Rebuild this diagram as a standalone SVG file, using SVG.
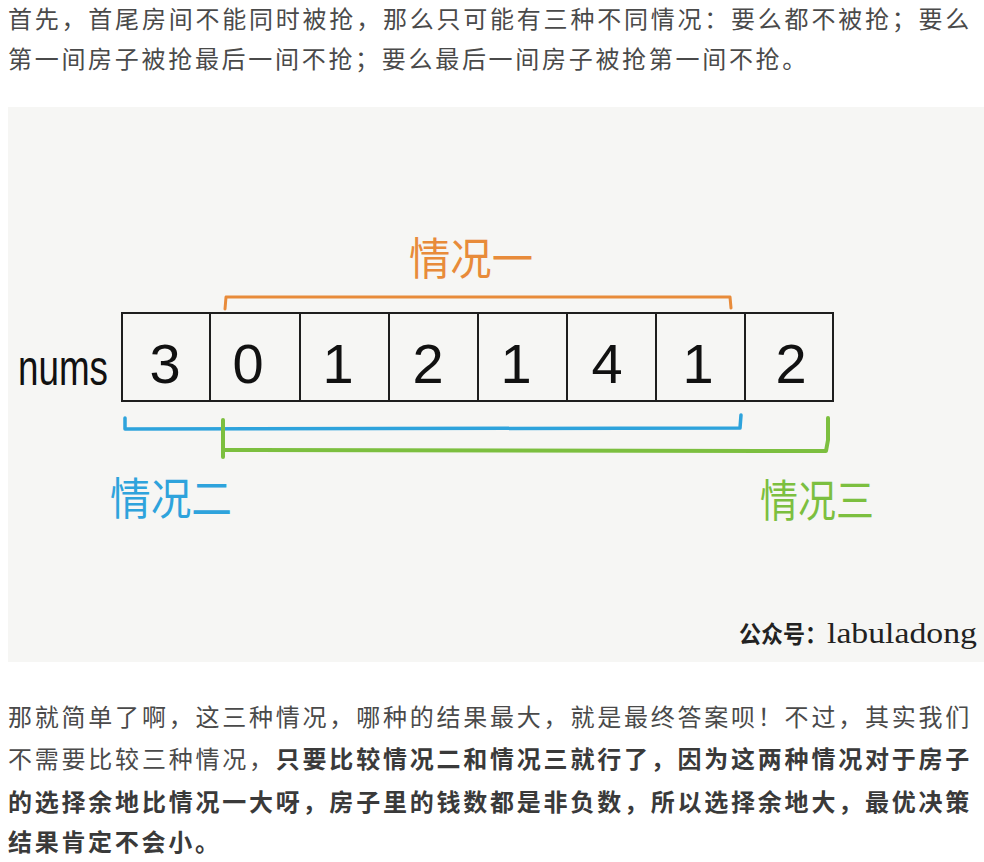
<svg xmlns="http://www.w3.org/2000/svg" width="984" height="862" viewBox="0 0 984 862">
<style>
.p{font-family:"Noto Sans CJK SC","Liberation Sans",sans-serif;font-size:24px;fill:#4a4a4a;letter-spacing:2.7px}
.b{font-weight:700;fill:#3a3a3a}
.box{fill:none;stroke:#1e1e1e;stroke-width:2}
.dg{font-family:"Liberation Sans","DejaVu Sans",sans-serif;font-size:56px;fill:#111;text-anchor:middle}
.hw{font-family:"Noto Sans CJK SC",sans-serif;font-size:44px;font-weight:400}
.br{fill:none;stroke-linecap:round;stroke-linejoin:round}
</style>
<rect x="0" y="0" width="984" height="862" fill="#ffffff"/>
<text class="p" x="8" y="28" textLength="964" lengthAdjust="spacing">首先，首尾房间不能同时被抢，那么只可能有三种不同情况：要么都不被抢；要么</text>
<text class="p" x="8" y="68">第一间房子被抢最后一间不抢；要么最后一间房子被抢第一间不抢。</text>
<rect x="8" y="107" width="976" height="555" fill="#f6f6f4"/>
<g id="nums-label"><text x="18" y="385" font-family="Liberation Sans,sans-serif" font-size="50" fill="#111" textLength="90" lengthAdjust="spacingAndGlyphs">nums</text></g>
<g id="cells">
<g id="c0"><rect class="box" x="122" y="313" width="88" height="88"/><text class="dg" x="165" y="383">3</text></g>
<g id="c1"><rect class="box" x="210" y="313" width="90" height="88"/><text class="dg" x="248" y="383">0</text></g>
<g id="c2"><rect class="box" x="300" y="313" width="89" height="88"/><text class="dg" x="338" y="383">1</text></g>
<g id="c3"><rect class="box" x="389" y="313" width="89" height="88"/><text class="dg" x="428" y="383">2</text></g>
<g id="c4"><rect class="box" x="478" y="313" width="89" height="88"/><text class="dg" x="516" y="383">1</text></g>
<g id="c5"><rect class="box" x="567" y="313" width="89" height="88"/><text class="dg" x="607" y="383">4</text></g>
<g id="c6"><rect class="box" x="656" y="313" width="89" height="88"/><text class="dg" x="698" y="383">1</text></g>
<g id="c7"><rect class="box" x="745" y="313" width="88" height="88"/><text class="dg" x="791" y="383">2</text></g>
</g>
<g id="connectors">
<path class="br" d="M225,309 L226,297 L730,297 L731,308" stroke="#e88b3a" stroke-width="3"/>
<path class="br" d="M125,418 L125,429 L740,428 L741,415" stroke="#2ea3dc" stroke-width="3.5"/>
<path class="br" d="M223,420 L223,457 M223,450 L826,451 L828,440 L828,418" stroke="#7cbf3f" stroke-width="4"/>
</g>
<g id="label1"><text class="hw" x="409" y="275" fill="#e88b3a" textLength="124" lengthAdjust="spacingAndGlyphs">情况一</text></g>
<g id="label2"><text class="hw" x="110" y="515" fill="#2ea3dc" textLength="122" lengthAdjust="spacingAndGlyphs">情况二</text></g>
<g id="label3"><text class="hw" x="760" y="517" fill="#7cbf3f" textLength="114" lengthAdjust="spacingAndGlyphs">情况三</text></g>
<g id="watermark">
<text x="739" y="643" font-family="Noto Sans CJK SC,sans-serif" font-size="24" font-weight="700" fill="#222" textLength="88" lengthAdjust="spacingAndGlyphs">公众号：</text>
<text x="827" y="643" font-family="Liberation Serif,serif" font-size="29" fill="#222" textLength="150" lengthAdjust="spacingAndGlyphs">labuladong</text>
</g>
<text class="p" x="8" y="726" textLength="964" lengthAdjust="spacing">那就简单了啊，这三种情况，哪种的结果最大，就是最终答案呗！不过，其实我们</text>
<text class="p" x="8" y="768" textLength="964" lengthAdjust="spacing">不需要比较三种情况，<tspan class="b">只要比较情况二和情况三就行了，因为这两种情况对于房子</tspan></text>
<text class="p b" x="8" y="811" textLength="964" lengthAdjust="spacing">的选择余地比情况一大呀，房子里的钱数都是非负数，所以选择余地大，最优决策</text>
<text class="p b" x="8" y="851">结果肯定不会小。</text>
</svg>
